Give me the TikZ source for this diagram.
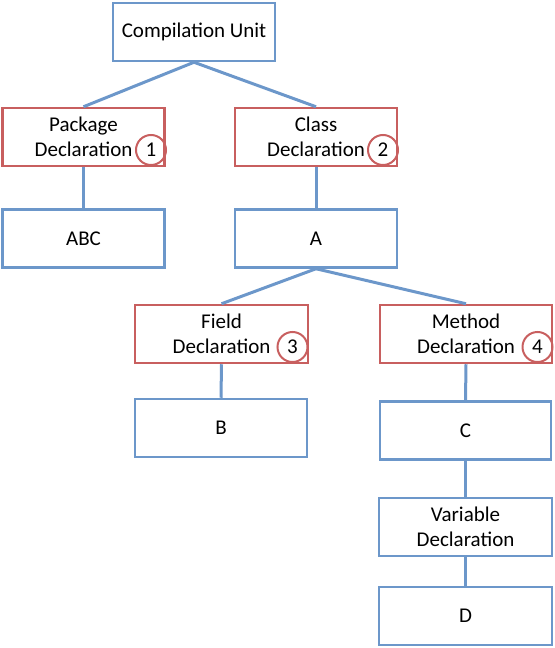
\documentclass[tikz,border=0pt]{standalone}
\usepackage{fontspec}
\setmainfont{Carlito}
\usetikzlibrary{positioning}
\definecolor{boxblue}{RGB}{108,151,202}
\definecolor{boxred}{RGB}{200,95,95}

\begin{document}
\begin{tikzpicture}[x=1bp,y=-1bp,
    treebox/.style={draw=boxblue,line width=2.5bp,minimum width=162bp,minimum height=58bp,
      inner sep=0pt,align=center,font=\fontsize{21bp}{25bp}\selectfont},
    declbox/.style={treebox,draw=boxred},
    numring/.style={circle,draw=boxred,line width=2bp,minimum size=30bp,inner sep=0pt,
      font=\fontsize{21bp}{25bp}\selectfont},
    link/.style={draw=boxblue,line width=3bp}]
    \useasboundingbox (0,0) rectangle (555,648);
    % boxes
    \node[treebox] (unit) at (194,32) {Compilation Unit};
    \node[declbox] (pkg) at (83.5,137) {Package\\Declaration};
    \node[declbox] (cls) at (316,137) {Class\\Declaration};
    \node[treebox] (abc) at (83.5,238.5) {ABC};
    \node[treebox] (a) at (316,238.5) {A};
    \node[declbox,minimum width=173bp] (fld) at (221.5,334) {Field\\Declaration};
    \node[declbox,minimum width=172bp] (mth) at (466,334) {Method\\Declaration};
    \node[treebox,minimum width=172bp] (b) at (221,428) {B};
    \node[treebox,minimum width=171bp] (c) at (465.5,430.5) {C};
    \node[treebox,minimum width=173bp] (var) at (465.5,527) {Variable\\Declaration};
    \node[treebox,minimum width=173bp] (d) at (465.5,616) {D};
    % numbers
    \node[numring] (n1) at (151,150) {1};
    \node[numring] (n2) at (383,150) {2};
    \node[numring] (n3) at (292.5,347) {3};
    \node[numring] (n4) at (537.5,347) {4};
    % tree lines
    \draw[link] (unit.south) -- (pkg.north);
    \draw[link] (unit.south) -- (cls.north);
    \draw[link] (pkg.south) -- (abc.north);
    \draw[link] (cls.south) -- (a.north);
    \draw[link] (a.south) -- (fld.north);
    \draw[link] (a.south) -- (mth.north);
    \draw[link] (fld.south) -- (b.north);
    \draw[link] (mth.south) -- (c.north);
    \draw[link] (c.south) -- (var.north);
    \draw[link] (var.south) -- (d.north);
\end{tikzpicture}
\end{document}
